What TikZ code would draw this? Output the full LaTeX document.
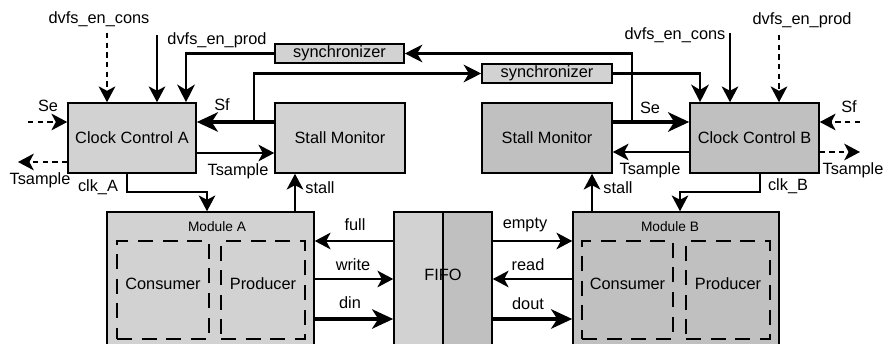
\documentclass[tikz,border=0pt]{standalone}
\usepackage{fontspec}
\setmainfont{Liberation Sans}
\usetikzlibrary{arrows.meta,calc}
\definecolor{boxlight}{HTML}{D2D2D2}
\definecolor{boxdark}{HTML}{C0C0C0}

\begin{document}
\begin{tikzpicture}[x=0.02cm,y=-0.02cm,
          every node/.style={font=\fontsize{9.3}{11}\selectfont},
          blk/.style={rectangle,draw,line width=0.9pt,fill=boxlight,inner sep=0pt,
              minimum height=1.4cm},
          part/.style={rectangle,draw,line width=0.9pt,dash pattern=on 8.5pt off 5.5pt,
              inner sep=0pt,minimum height=1.96cm,text depth=6.8pt},
          lbl/.style={inner sep=1pt},
          arr/.style={-{Stealth[length=9pt,width=9.5pt,inset=2.5pt]},line width=0.9pt},
          darr/.style={arr,line width=1pt,dash pattern=on 3pt off 2.5pt},
          marr/.style={-{Stealth[length=10pt,width=10pt,inset=3pt]},line width=1.4pt},
          tarr/.style={-{Stealth[length=12pt,width=11pt,inset=3.5pt]},line width=2.4pt}]
        \clip (0,0) rectangle (885,344);

        \node[blk,minimum width=2.56cm] (ccA) at (132,138) {Clock Control A};
        \node[blk,minimum width=2.6cm] (smA) at (340,138) {Stall Monitor};
        \node[blk,fill=boxdark,minimum width=2.6cm] (smB) at (547,138) {Stall Monitor};
        \node[blk,fill=boxdark,minimum width=2.58cm] (ccB) at (754.5,138) {Clock Control B};
        \node[blk,minimum width=2.58cm,minimum height=0.38cm] (syncA) at (339.5,53.5) {synchronizer};
        \node[blk,minimum width=2.6cm,minimum height=0.38cm] (syncB) at (547,73.5) {synchronizer};

        \node[blk,minimum width=4.14cm,minimum height=3.36cm] (modA) at (210.5,296) {};
        \node[blk,minimum width=0.98cm,minimum height=3.36cm] (fifoL) at (418.5,296) {};
        \node[blk,fill=boxdark,minimum width=0.98cm,minimum height=3.36cm] (fifoR) at (467.5,296) {};
        \node[blk,fill=boxdark,minimum width=4.12cm,minimum height=3.36cm] (modB) at (676,296) {};
        \node[lbl] (fifo) at (443,275) {FIFO};

        \node[lbl,font=\fontsize{7.8}{9}\selectfont] (modAtxt) at (217,227) {Module A};
        \node[lbl,font=\fontsize{7.8}{9}\selectfont] (modBtxt) at (670,227) {Module B};
        \node[part,minimum width=1.84cm] (consA) at (163,290) {Consumer};
        \node[part,minimum width=1.68cm] (prodA) at (263,290) {Producer};
        \node[part,minimum width=1.82cm] (consB) at (627.5,290) {Consumer};
        \node[part,minimum width=1.68cm] (prodB) at (728,290) {Producer};

        \node[lbl] (lConsA) at (99,19) {dvfs\_en\_cons};
        \node[lbl] (lProdA) at (217,40) {dvfs\_en\_prod};
        \node[lbl] (lConsB) at (675,35) {dvfs\_en\_cons};
        \node[lbl] (lProdB) at (802,20) {dvfs\_en\_prod};
        \node[lbl] (lSeA) at (48,106) {Se};
        \node[lbl] (lTsA) at (40,180) {Tsample};
        \node[lbl] (lSfA) at (222,105) {Sf};
        \node[lbl] (lTsAm) at (238,171) {Tsample};
        \node[lbl] (lClkA) at (98,187) {clk\_A};
        \node[lbl] (lStallA) at (320,188) {stall};
        \node[lbl] (lSeB) at (650,108) {Se};
        \node[lbl] (lSfB) at (849,107) {Sf};
        \node[lbl] (lTsBm) at (650,170) {Tsample};
        \node[lbl] (lTsB) at (853,170) {Tsample};
        \node[lbl] (lClkB) at (788,186) {clk\_B};
        \node[lbl] (lStallB) at (618,188) {stall};
        \node[lbl] (lFull) at (355,225) {full};
        \node[lbl] (lWrite) at (353,265) {write};
        \node[lbl] (lDin) at (350,303) {din};
        \node[lbl] (lEmpty) at (525,225) {empty};
        \node[lbl] (lRead) at (528,265) {read};
        \node[lbl] (lDout) at (528,304) {dout};

        \coordinate (consAin) at (107,33);
        \coordinate (prodAin) at (157,35);
        \coordinate (consBin) at (730,33);
        \coordinate (prodBin) at (779,35);
        \coordinate (seAin) at (28,122);
        \coordinate (tsAout) at (18,162);
        \coordinate (sfBin) at (860,122);
        \coordinate (tsBout) at (860,152);

        \draw[darr] (consAin) -- (consAin |- ccA.north);
        \draw[arr] (prodAin) -- (prodAin |- ccA.north);
        \draw[arr] (consBin) -- (consBin |- ccB.north);
        \draw[darr] (prodBin) -- (prodBin |- ccB.north);
        \draw[darr] (seAin) -- (seAin -| ccA.west);
        \draw[darr] (tsAout -| ccA.west) -- (tsAout);
        \draw[darr] (sfBin) -- (sfBin -| ccB.east);
        \draw[darr] (tsBout -| ccB.east) -- (tsBout);

        \draw[tarr] ($(smA.west)+(0,-16)$) -- ($(ccA.east)+(0,-16)$);
        \draw[marr] ($(smA.west)+(-20,-16)$) |- (syncB.west);
        \draw[marr] (syncA.west) -| ($(ccA.north)+(54,0)$);
        \draw[tarr] ($(smB.east)+(0,-16)$) -- ($(ccB.west)+(0,-16)$);
        \draw[marr] ($(smB.east)+(19,-16)$) |- (syncA.east);
        \draw[marr] (syncB.east) -| ($(ccB.north)+(-54.5,0)$);

        \draw[arr] ($(ccA.east)+(0,15)$) -- ($(smA.west)+(0,15)$);
        \draw[arr] ($(ccB.west)+(0,14)$) -- ($(smB.east)+(0,14)$);
        \draw[arr] ($(ccA.south)+(-5,0)$) -- ++(0,18) -| ($(modA.north)+(-3.5,0)$);
        \draw[arr] ($(ccB.south)+(5.5,0)$) -- ++(0,18) -| ($(modB.north)+(4,0)$);
        \draw[arr] ($(smA.south)+(-45,39)$) -- ($(smA.south)+(-45,0)$);
        \draw[arr] ($(smB.south)+(45,39)$) -- ($(smB.south)+(45,0)$);

        \draw[arr] ($(fifoL.west)+(0,-55)$) -- ($(modA.east)+(0,-55)$);
        \draw[arr] ($(modA.east)+(0,-17)$) -- ($(fifoL.west)+(0,-17)$);
        \draw[tarr] ($(modA.east)+(0,23)$) -- ($(fifoL.west)+(0,23)$);
        \draw[arr] ($(fifoR.east)+(0,-55)$) -- ($(modB.west)+(0,-55)$);
        \draw[arr] ($(modB.west)+(0,-17)$) -- ($(fifoR.east)+(0,-17)$);
        \draw[tarr] ($(fifoR.east)+(0,23)$) -- ($(modB.west)+(0,23)$);
      \end{tikzpicture}
\end{document}
